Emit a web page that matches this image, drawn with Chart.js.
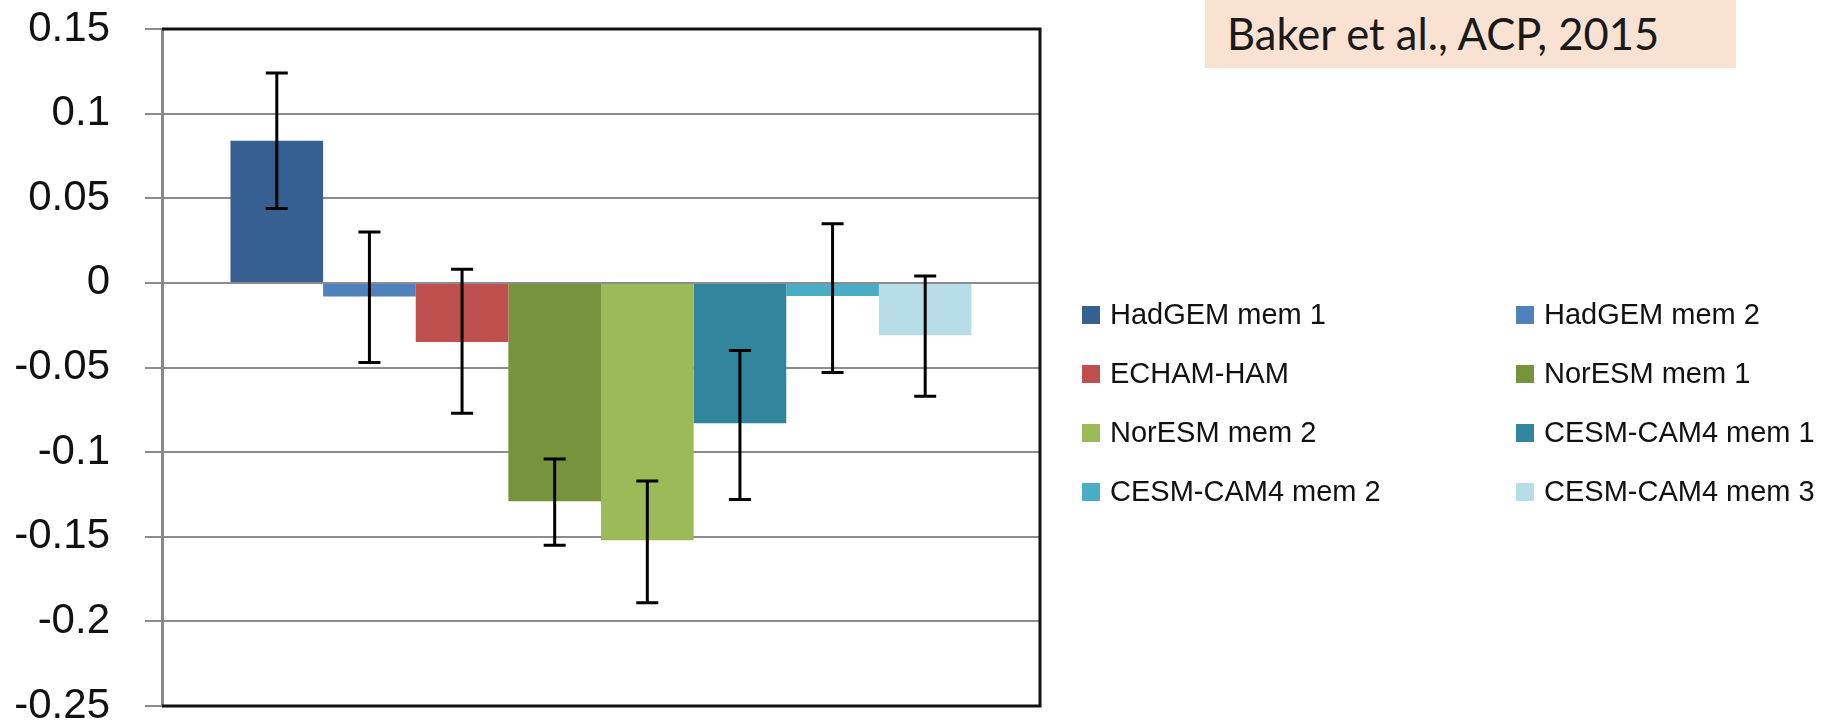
<!DOCTYPE html>
<html>
<head>
<meta charset="utf-8">
<script src="https://cdn.jsdelivr.net/npm/chart.js@4"></script>
<style>
  html, body { margin: 0; padding: 0; background: #fff; }
  #wrap { position: relative; width: 1824px; height: 723px; }
  #note {
    position: absolute; left: 1205px; top: 0; width: 531px; height: 68px;
    background: #f9e2d1; font-family: Lato, 'Open Sans', sans-serif;
    font-size: 43.5px; line-height: 66px; color: #1a1a1a; text-indent: 22px;
    box-sizing: border-box;
  }
</style>
</head>
<body>
<div id="wrap">
  <canvas id="barChart" width="1824" height="723"></canvas>
  <div id="note">Baker et al., ACP, 2015</div>
</div>
<script>
// data ------------------------------------------------------------
const models = ['HadGEM mem 1', 'HadGEM mem 2', 'ECHAM-HAM', 'NorESM mem 1',
  'NorESM mem 2', 'CESM-CAM4 mem 1', 'CESM-CAM4 mem 2', 'CESM-CAM4 mem 3'];
const values = [0.084, -0.008, -0.035, -0.129, -0.152, -0.083, -0.0077, -0.031];
const errHigh = [0.124, 0.030, 0.008, -0.104, -0.117, -0.040, 0.035, 0.004];
const errLow = [0.044, -0.047, -0.077, -0.155, -0.189, -0.128, -0.053, -0.067];
const colors = ['#376092', '#4f81bd', '#c0504d', '#77933c',
  '#9bbb59', '#31859c', '#4bacc6', '#b7dee8'];
const tickLabels = ['-0.25', '-0.2', '-0.15', '-0.1', '-0.05', '0', '0.05', '0.1', '0.15'];

const sans = "'Liberation Sans', Arial, sans-serif";

// error bars drawn from the y scale
const errorBars = {
  id: 'errorBars',
  afterDatasetsDraw(chart) {
    const ctx = chart.ctx;
    const y = chart.scales.y;
    ctx.save();
    ctx.strokeStyle = '#000';
    ctx.lineWidth = 3;
    chart.data.datasets.forEach((ds, i) => {
      const bar = chart.getDatasetMeta(i).data[0];
      const top = y.getPixelForValue(errHigh[i]);
      const bot = y.getPixelForValue(errLow[i]);
      ctx.beginPath();
      ctx.moveTo(bar.x, top); ctx.lineTo(bar.x, bot);
      ctx.moveTo(bar.x - 11, top); ctx.lineTo(bar.x + 11, top);
      ctx.moveTo(bar.x - 11, bot); ctx.lineTo(bar.x + 11, bot);
      ctx.stroke();
    });
    ctx.restore();
  }
};

// black frame on top, right and bottom
const frame = {
  id: 'frame',
  afterDraw(chart) {
    const a = chart.chartArea;
    const ctx = chart.ctx;
    ctx.save();
    ctx.strokeStyle = '#111';
    ctx.lineWidth = 3;
    ctx.beginPath();
    ctx.moveTo(a.left, a.top); ctx.lineTo(a.right, a.top);
    ctx.lineTo(a.right, a.bottom); ctx.lineTo(a.left, a.bottom);
    ctx.stroke();
    ctx.restore();
  }
};

// two-column legend to the right
const sideLegend = {
  id: 'sideLegend',
  afterDraw(chart) {
    const ctx = chart.ctx;
    ctx.save();
    ctx.font = '29px ' + sans;
    ctx.textBaseline = 'middle';
    chart.data.datasets.forEach((ds, i) => {
      const x = i % 2 === 0 ? 1082 : 1516;
      const cy = 315 + Math.floor(i / 2) * 59;
      ctx.fillStyle = ds.backgroundColor;
      ctx.fillRect(x, cy - 9, 18, 18);
      ctx.fillStyle = '#111';
      ctx.fillText(ds.label, x + 28, cy + 1);
    });
    ctx.restore();
  }
};

const config = {
  type: 'bar',
  data: {
    labels: [''],
    datasets: models.map((m, i) => ({
      label: m,
      data: [values[i]],
      backgroundColor: colors[i],
      categoryPercentage: 0.844,
      barPercentage: 1
    }))
  },
  options: {
    responsive: false,
    animation: false,
    devicePixelRatio: 1,
    layout: { padding: { top: 29, bottom: 17, right: 784, left: 0 } },
    plugins: { legend: { display: false }, tooltip: { enabled: false } },
    scales: {
      x: { display: false },
      y: {
        min: -0.25,
        max: 0.15,
        afterFit(scale) {
          scale.width = 162;
          scale.paddingTop = 0;
          scale.paddingBottom = 0;
        },
        ticks: {
          stepSize: 0.05,
          padding: 35,
          color: '#111',
          font: { family: sans, size: 42 },
          callback: (v, i) => tickLabels[i]
        },
        grid: { color: '#8c8c8c', lineWidth: 2, tickLength: 17 },
        border: { display: true, color: '#888', width: 3 }
      }
    }
  },
  plugins: [errorBars, frame, sideLegend]
};

new Chart(document.getElementById('barChart'), config);
</script>
</body>
</html>
